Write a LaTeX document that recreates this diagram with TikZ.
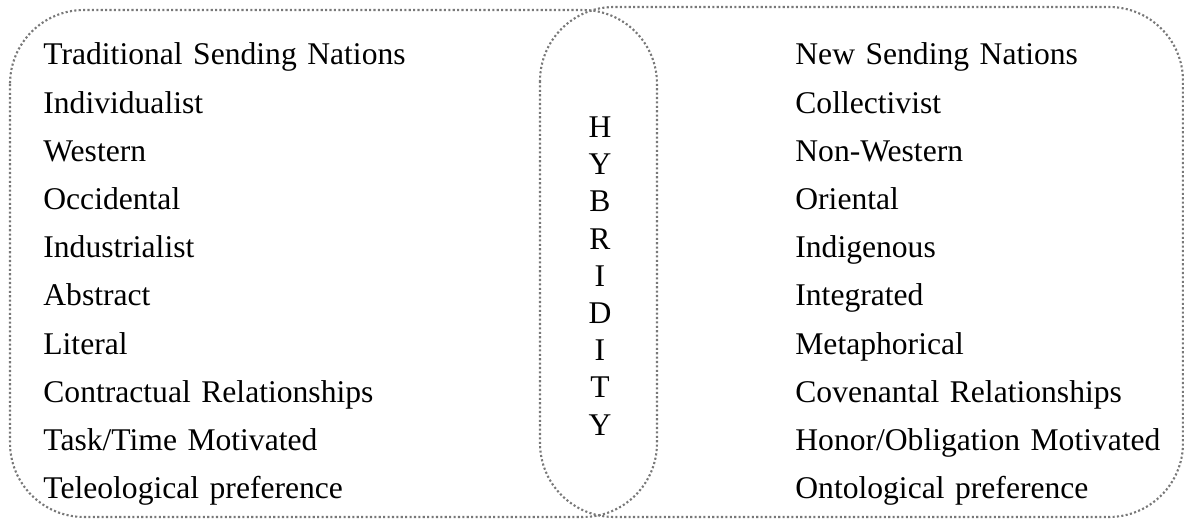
\documentclass[tikz,border=0pt]{standalone}
\usepackage{fontspec}
\setmainfont{Liberation Serif}
\usetikzlibrary{positioning}
\definecolor{dotgray}{RGB}{120,120,120}
\tikzset{
    panel/.style={draw=dotgray, line width=1.05pt, dash pattern=on 1.05pt off 1.15pt, rounded corners=37pt},
    item/.style={inner sep=0pt, text width=200pt, align=left, text height=16pt, text depth=7.7pt},
    letter/.style={inner sep=0pt, text width=20pt, align=center, text height=12pt, text depth=6.2pt}
}

\begin{document}
\begin{tikzpicture}[x=0.5pt, y=0.5pt, node distance=0pt, font=\fontsize{15.8pt}{19pt}\selectfont]
    \useasboundingbox (0,0) rectangle (1184,519);
    \coordinate (LA) at (10,509); \coordinate (LB) at (657,2);
    \coordinate (RA) at (540,512); \coordinate (RB) at (1183,2);
    \draw[panel](LA) rectangle (LB);
    \draw[panel](RA) rectangle (RB);
    % left column
    \node[item, anchor=base west](T1) at (43,454) {Traditional Sending Nations};
    \node[item, below=of T1](T2) {Individualist};
    \node[item, below=of T2](T3) {Western};
    \node[item, below=of T3](T4) {Occidental};
    \node[item, below=of T4](T5) {Industrialist};
    \node[item, below=of T5](T6) {Abstract};
    \node[item, below=of T6](T7) {Literal};
    \node[item, below=of T7](T8) {Contractual Relationships};
    \node[item, below=of T8](T9) {Task/Time Motivated};
    \node[item, below=of T9](T10) {Teleological preference};
    % right column
    \node[item, anchor=base west](N1) at (795,454) {New Sending Nations};
    \node[item, below=of N1](N2) {Collectivist};
    \node[item, below=of N2](N3) {Non-Western};
    \node[item, below=of N3](N4) {Oriental};
    \node[item, below=of N4](N5) {Indigenous};
    \node[item, below=of N5](N6) {Integrated};
    \node[item, below=of N6](N7) {Metaphorical};
    \node[item, below=of N7](N8) {Covenantal Relationships};
    \node[item, below=of N8](N9) {Honor/Obligation Motivated};
    \node[item, below=of N9](N10) {Ontological preference};
    % middle word
    \node[letter, anchor=base](H1) at (600,381.5) {H};
    \node[letter, below=of H1](H2) {Y};
    \node[letter, below=of H2](H3) {B};
    \node[letter, below=of H3](H4) {R};
    \node[letter, below=of H4](H5) {I};
    \node[letter, below=of H5](H6) {D};
    \node[letter, below=of H6](H7) {I};
    \node[letter, below=of H7](H8) {T};
    \node[letter, below=of H8](H9) {Y};
\end{tikzpicture}
\end{document}
